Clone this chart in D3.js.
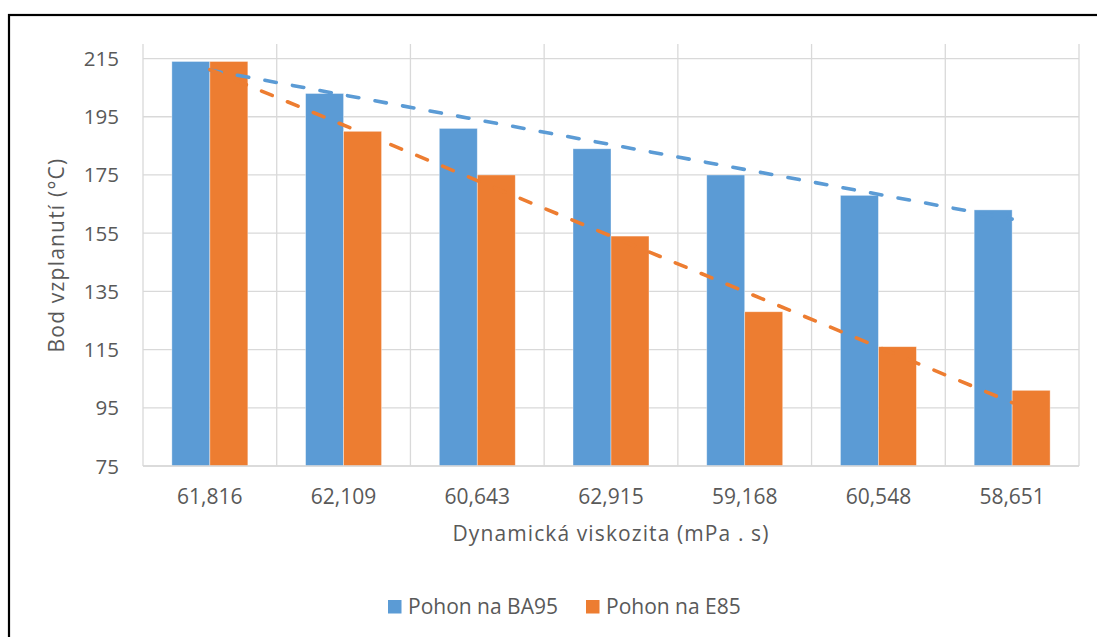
<!DOCTYPE html>
<html>
<head>
<meta charset="utf-8">
<script src="https://cdn.jsdelivr.net/npm/d3@7"></script>
<style>
  html, body { margin: 0; padding: 0; background: #fff; }
  svg text { font-family: "Open Sans", "Noto Sans", sans-serif; fill: #595959; }
</style>
</head>
<body>
<svg id="chart" width="1097" height="637"></svg>
<script>
// Dynamic viscosity of each fuel sample (category labels)
const categories = ["61,816", "62,109", "60,643", "62,915", "59,168", "60,548", "58,651"];
// Flash point (°C) for each fuel
const seriesNames = ["Pohon na BA95", "Pohon na E85"];
const ba95 = [214, 203, 191, 184, 175, 168, 163];
const e85 = [214, 190, 175, 154, 128, 116, 101];
const yTicks = [75, 95, 115, 135, 155, 175, 195, 215];
const colors = ["#5B9BD5", "#ED7D31"];

const svg = d3.select("#chart");
const plot = { left: 143, right: 1079, top: 44, bottom: 466 };

// Outer frame
svg.append("rect")
  .attr("x", 9).attr("y", 15)
  .attr("width", 1200).attr("height", 700)
  .attr("fill", "none").attr("stroke", "#000").attr("stroke-width", 2.2);

const x0 = d3.scaleBand().domain(categories).range([plot.left, plot.right]).padding(0);
const x1 = d3.scaleBand().domain(seriesNames).range([0, x0.bandwidth()])
  .paddingInner(0).paddingOuter(0.76);
const y = d3.scaleLinear().domain([75, 220]).range([plot.bottom, plot.top]);

// Horizontal gridlines
svg.append("g").selectAll("line").data(yTicks).join("line")
  .attr("x1", plot.left).attr("x2", plot.right)
  .attr("y1", d => y(d)).attr("y2", d => y(d))
  .attr("stroke", "#D9D9D9").attr("stroke-width", 1.3);

// Vertical gridlines at category boundaries
const edges = categories.map(c => x0(c)).concat([plot.right]);
svg.append("g").selectAll("line").data(edges).join("line")
  .attr("x1", d => d).attr("x2", d => d)
  .attr("y1", plot.top).attr("y2", plot.bottom)
  .attr("stroke", "#D9D9D9").attr("stroke-width", 1.3);

// Y axis tick labels
svg.append("g").selectAll("text").data(yTicks).join("text")
  .attr("x", 119).attr("y", d => y(d) + 7.5)
  .attr("text-anchor", "end")
  .attr("font-size", 20.5)
  .text(d => d);

// Bars
const rows = categories.map((c, i) => ({ cat: c, vals: [ba95[i], e85[i]] }));
const groups = svg.append("g").selectAll("g").data(rows).join("g")
  .attr("transform", d => `translate(${x0(d.cat)},0)`);
groups.selectAll("rect").data(d => d.vals.map((v, k) => ({ name: seriesNames[k], v, k })))
  .join("rect")
  .attr("x", d => x1(d.name))
  .attr("width", x1.bandwidth())
  .attr("y", d => y(d.v))
  .attr("height", d => y(75) - y(d.v))
  .attr("fill", d => colors[d.k])
  .attr("stroke", "#ffffff").attr("stroke-opacity", 0.5).attr("stroke-width", 0.75);

// Bottom axis line
svg.append("line")
  .attr("x1", plot.left).attr("x2", plot.right)
  .attr("y1", plot.bottom).attr("y2", plot.bottom)
  .attr("stroke", "#D9D9D9").attr("stroke-width", 1.5);

// Linear trendlines (least squares over category index)
function linearFit(vals) {
  const xs = vals.map((_, i) => i + 1);
  const mx = d3.mean(xs), my = d3.mean(vals);
  let sxy = 0, sxx = 0;
  xs.forEach((xv, i) => { sxy += (xv - mx) * (vals[i] - my); sxx += (xv - mx) ** 2; });
  const slope = sxy / sxx;
  return xv => my + slope * (xv - mx);
}
const center = c => x0(c) + x0.bandwidth() / 2;
[ba95, e85].forEach((vals, k) => {
  const f = linearFit(vals);
  const n = vals.length;
  svg.append("line")
    .attr("x1", center(categories[0])).attr("y1", y(f(1)))
    .attr("x2", center(categories[n - 1])).attr("y2", y(f(n)))
    .attr("stroke", colors[k]).attr("stroke-width", 3.6)
    .attr("stroke-linecap", "round")
    .attr("stroke-dasharray", "11.5 16.5");
});

// X axis category labels
svg.append("g").selectAll("text").data(categories).join("text")
  .attr("x", d => center(d)).attr("y", 504)
  .attr("text-anchor", "middle")
  .attr("font-size", 21)
  .text(d => d);

// Axis titles
svg.append("text")
  .attr("x", (plot.left + plot.right) / 2).attr("y", 541)
  .attr("text-anchor", "middle").attr("font-size", 21)
  .attr("letter-spacing", 1.1)
  .text("Dynamická viskozita (mPa . s)");

svg.append("text")
  .attr("transform", `translate(64,${(plot.top + plot.bottom) / 2}) rotate(-90)`)
  .attr("text-anchor", "middle").attr("font-size", 21)
  .attr("letter-spacing", 1.2)
  .text("Bod vzplanutí (°C)");

// Legend
const legendX = [388, 586];
const legend = svg.append("g").selectAll("g").data(seriesNames).join("g")
  .attr("transform", (d, i) => `translate(${legendX[i]},600)`);
legend.append("rect").attr("width", 13.5).attr("height", 13.5)
  .attr("fill", (d, i) => colors[i]);
legend.append("text").attr("x", 20).attr("y", 13.5)
  .attr("font-size", 21).text(d => d);
</script>
</body>
</html>
